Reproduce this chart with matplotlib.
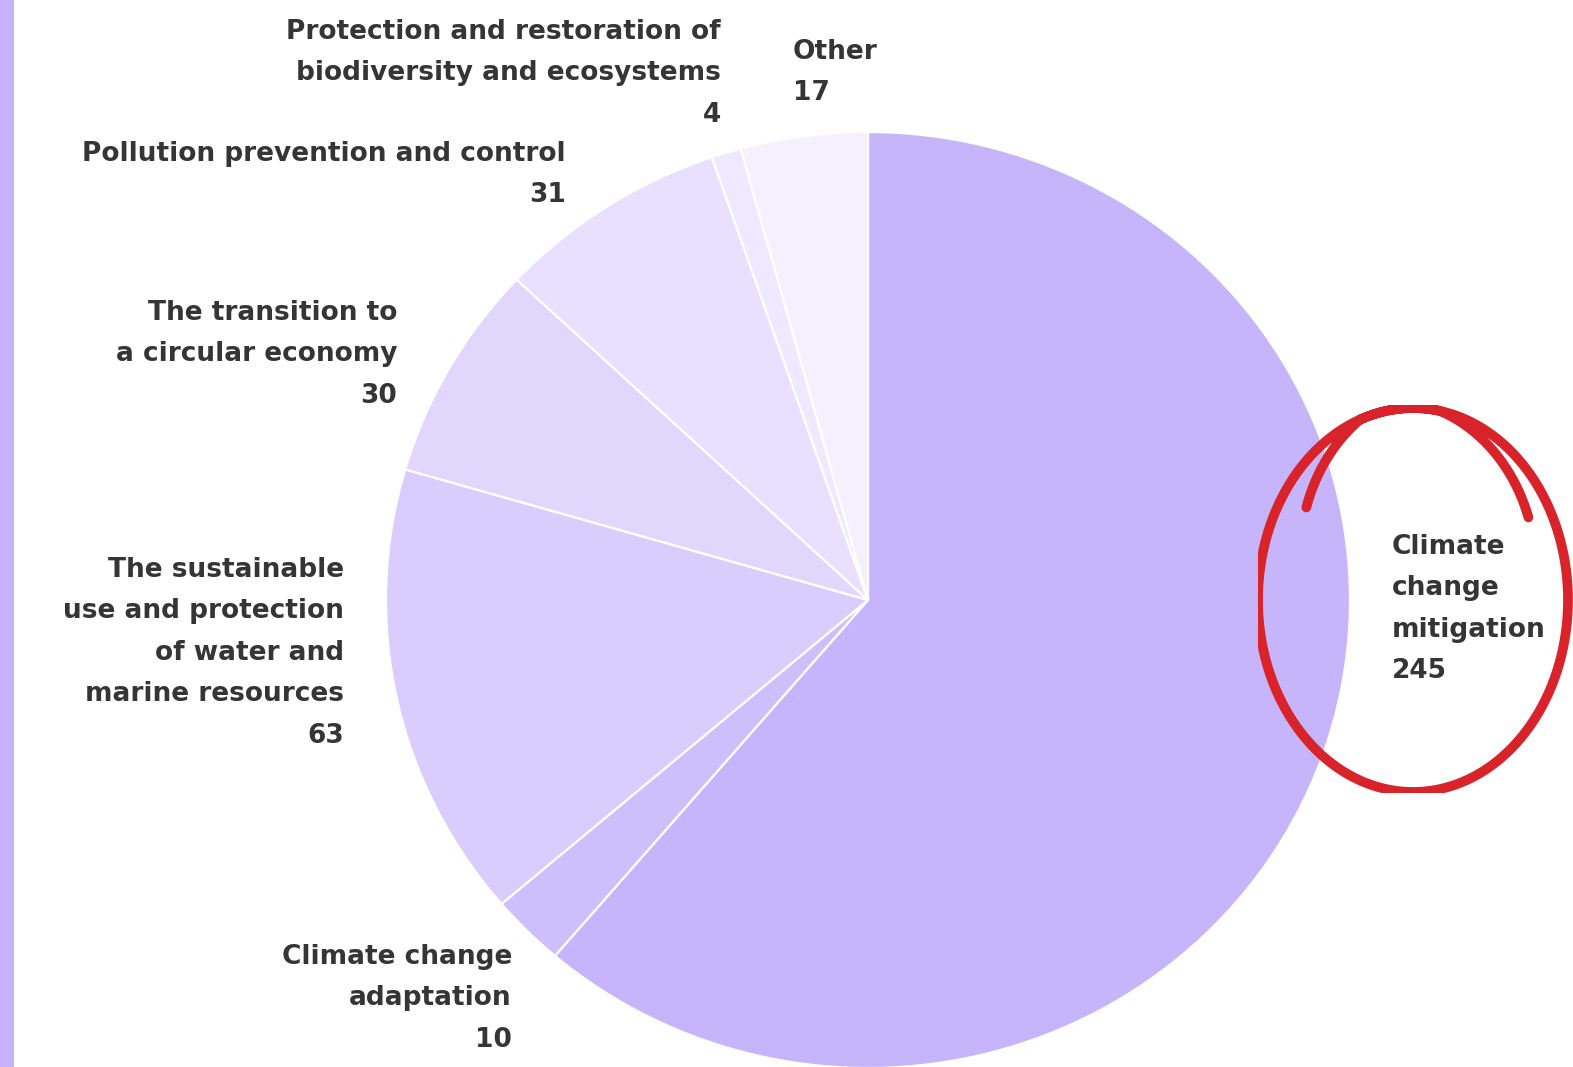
import numpy as np
import matplotlib.pyplot as plt
from matplotlib.patches import Rectangle

# Objectives of taxonomy-aligned activities (count)
labels = [
    "Climate\nchange\nmitigation",
    "Climate change\nadaptation",
    "The sustainable\nuse and protection\nof water and\nmarine resources",
    "The transition to\na circular economy",
    "Pollution prevention and control",
    "Protection and restoration of\nbiodiversity and ecosystems",
    "Other",
]
values = [245, 10, 63, 30, 31, 4, 17]
colors = ["#C6B5FB", "#CDBEFC", "#D9CDFD", "#E1D7FD", "#E8E0FE", "#EEE9FE", "#F4F0FE"]

W, H = 1573, 1067
fig = plt.figure(figsize=(W / 100, H / 100), dpi=100)
fig.patch.set_facecolor("white")

# pie in its own axes, slightly squashed like the source
cx, cy, rx, ry = 868, 600, 482, 468
ax = fig.add_axes([0, 0, 1, 1])
ax.pie(values, colors=colors, startangle=90, counterclock=False,
       wedgeprops=dict(edgecolor="white", linewidth=1.6))
ax.set_xlim(-cx / rx, (W - cx) / rx)
ax.set_ylim(-(H - cy) / ry, cy / ry)
ax.set_aspect("auto")
ax.axis("off")

# overlay axes in pixel coords for the labels and the red mark
ov = fig.add_axes([0, 0, 1, 1], facecolor="none")
ov.set_xlim(0, W)
ov.set_ylim(H, 0)
ov.axis("off")
ov.add_patch(Rectangle((0, 0), 14, H, color="#C4B2FC", lw=0))

font = dict(family=["DejaVu Sans"], fontsize=19, fontweight="bold",
            color="#353535", linespacing=1.77)

# (x, y of first line, alignment) for each label
spots = [
    (1392, 545, "left"),
    (512, 955, "right"),
    (344, 568, "right"),
    (397, 311, "right"),
    (566, 152, "right"),
    (721, 30, "right"),
    (793, 50, "left"),
]
for lab, val, (x, y, ha) in zip(labels, values, spots):
    ov.text(x, y - 11, f"{lab}\n{val}", ha=ha, va="top", multialignment=ha, **font)

# hand drawn red circle round the biggest label
t = np.linspace(np.radians(215), np.radians(690), 400)
s = np.interp(t, np.radians([215, 250, 620, 640, 690]), [0.84, 1.0, 1.0, 1.0, 0.86])
xs = 1413 + 155 * s * np.cos(t)
ys = 600 + 192 * s * np.sin(t)
clip = Rectangle((1258, 405), W - 1258, 388, transform=ov.transData)
line, = ov.plot(xs, ys, color="#D8232A", lw=7, solid_capstyle="round")
line.set_clip_path(clip)

fig.savefig("out.png", dpi=100)
